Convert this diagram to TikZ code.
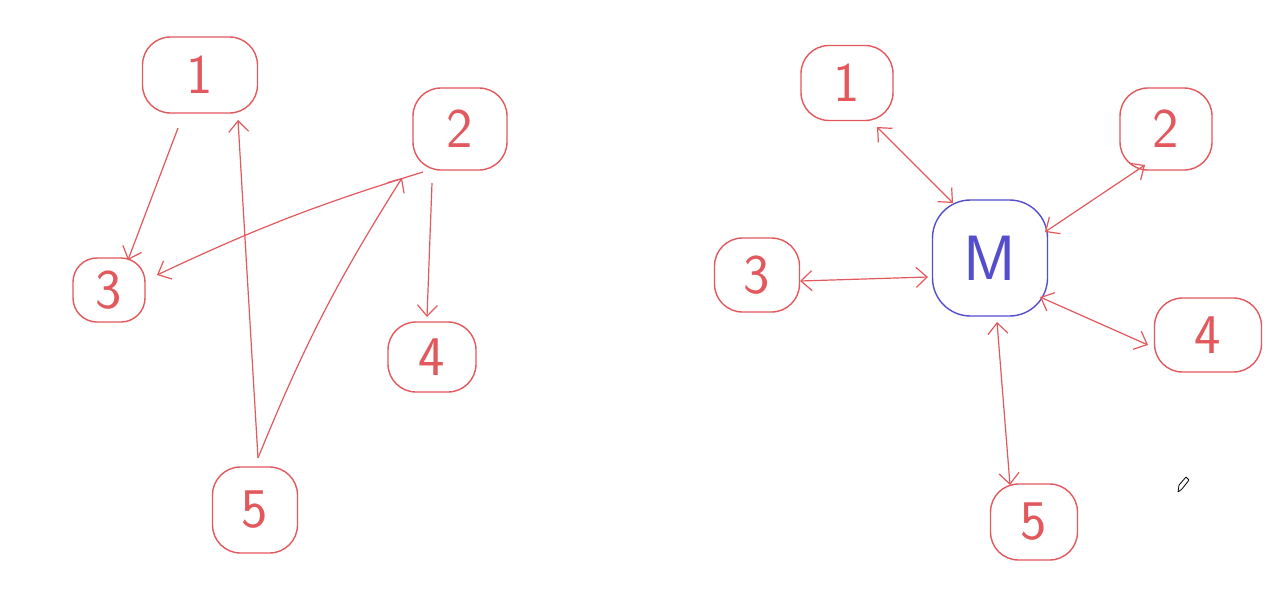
\documentclass[tikz,border=0pt]{standalone}
\usepackage{fontspec}
\usetikzlibrary{arrows.meta,calc}
\definecolor{pen}{RGB}{226,88,92}
\definecolor{penblue}{RGB}{84,78,205}
\tikzset{
  blob/.style={draw=pen, line width=1.4pt, rounded corners=28pt, text=pen,
    font=\sffamily\fontsize{56}{56}\selectfont, inner sep=0pt},
  mblob/.style={blob, draw=penblue, text=penblue},
  link/.style={draw=pen, line width=1.2pt, -{Straight Barb[length=11pt,width=20pt,line width=1.2pt]}},
  dlink/.style={draw=pen, line width=1.2pt, {Straight Barb[length=11pt,width=20pt,line width=1.2pt]}-{Straight Barb[length=11pt,width=20pt,line width=1.2pt]}},
}
\begin{document}
\begin{tikzpicture}[x=1pt,y=-1pt]
\useasboundingbox (0,0) rectangle (1282,597);
\fill[white] (0,0) rectangle (1282,597);
% left graph
\node[blob, minimum width=115pt, minimum height=76pt] (L1) at (200,75) {1};
\node[blob, minimum width=94pt, minimum height=82pt] (L2) at (460,129) {2};
\node[blob, minimum width=72pt, minimum height=64pt, rounded corners=24pt] (L3) at (109,290) {3};
\node[blob, minimum width=88pt, minimum height=70pt] (L4) at (432,357) {4};
\node[blob, minimum width=85pt, minimum height=86pt] (L5) at (255,510) {5};
\draw[link] ($(L1)+(-22,53)$) -- ($(L3)+(19,-30)$);
\draw[link] ($(L2)+(-37,43)$) to[bend right=4] ($(L3)+(48,-15)$);
\draw[link] ($(L2)+(-28,54)$) -- ($(L4)+(-5,-40)$);
\draw[link] ($(L5)+(3,-52)$) -- ($(L1)+(38,45)$);
\draw[link] ($(L5)+(3,-52)$) to[bend left=5] ($(L2)+(-58,49)$);
% right graph
\node[mblob, minimum width=115pt, minimum height=116pt, rounded corners=38pt, font=\sffamily\fontsize{64}{64}\selectfont] (M) at (990,258) {M};
\node[blob, minimum width=92pt, minimum height=75pt] (R1) at (847,83) {1};
\node[blob, minimum width=92pt, minimum height=82pt] (R2) at (1166,129) {2};
\node[blob, minimum width=85pt, minimum height=74pt] (R3) at (757,275) {3};
\node[blob, minimum width=107pt, minimum height=74pt] (R4) at (1208,335) {4};
\node[blob, minimum width=87pt, minimum height=76pt] (R5) at (1034,522) {5};
\draw[dlink] ($(R1)+(30,44)$) -- ($(M)+(-37,-55)$);
\draw[dlink] ($(R2)+(-21,36)$) -- ($(M)+(55,-26)$);
\draw[dlink] ($(R3)+(43,6)$) -- ($(M)+(-62,19)$);
\draw[dlink] ($(R4)+(-60,10)$) -- ($(M)+(50,39)$);
\draw[dlink] ($(R5)+(-24,-37)$) -- ($(M)+(7,64)$);
% pencil cursor
\draw[black, line width=0.8pt, rounded corners=0.5pt] (1178,492) -- (1179,485) -- (1186,477) -- (1189,480) -- (1182,489) -- cycle;
\end{tikzpicture}
\end{document}
